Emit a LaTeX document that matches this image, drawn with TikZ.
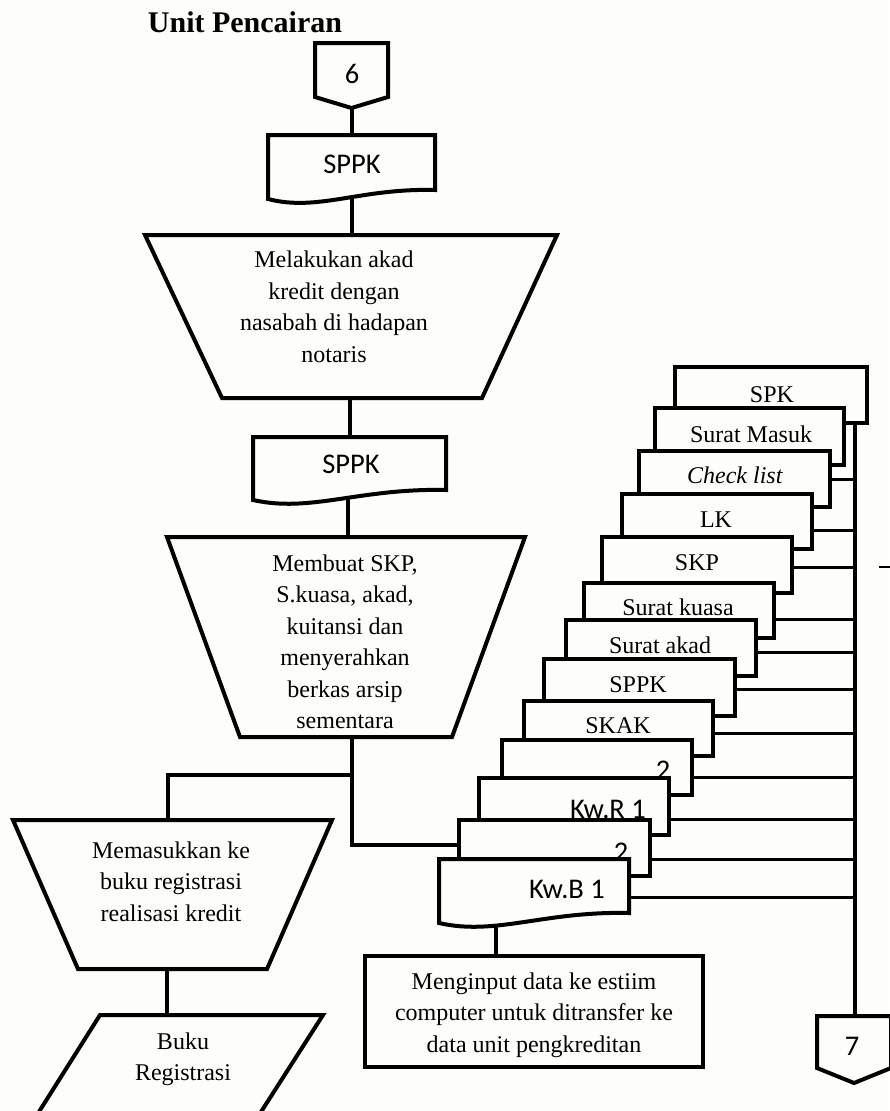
\documentclass[tikz,border=0pt]{standalone}
\usepackage{fontspec}
\setmainfont{Liberation Serif}
\newfontfamily\calib{Carlito}
\definecolor{paper}{RGB}{253,253,250}

% document symbol with a wavy bottom: left, top, right, bottom-left y, bottom-right y
\newcommand{\flowdoc}[5]{%
  \draw[shapeline] (#1,#2) -- (#3,#2) -- (#3,#5)
    .. controls ({#1+0.55*(#3-#1)},{#5-2}) and ({#1+0.3*(#3-#1)},{#4+13}) .. (#1,#4) -- cycle;}
% one sheet of the stacked documents: left, top, right, bottom
\newcommand{\sheet}[4]{\draw[shapeline] (#1,#2) rectangle (#3,#4);}
% off-page connector: left, top, right, bottom of the box, y of the tip
\newcommand{\offpage}[5]{%
  \draw[shapeline] (#1,#2) -- (#3,#2) -- (#3,#4) -- ({(#1+#3)/2},#5) -- (#1,#4) -- cycle;}

\begin{document}
\begin{tikzpicture}[x=1pt,y=-1pt,
  shapeline/.style={line width=4pt, line join=miter, draw=black, fill=paper},
  link/.style={line width=3.5pt},
  feed/.style={line width=3pt},
  body/.style={font=\fontsize{24}{31.5}\selectfont, align=center, inner sep=0pt},
  sans/.style={font=\calib\fontsize{28.5}{34}\selectfont, inner sep=0pt},
  sansbase/.style={sans, anchor=base},
  doclabel/.style={font=\fontsize{24}{30}\selectfont, inner sep=0pt, anchor=base},
]
\useasboundingbox[fill=paper] (0,0) rectangle (889,1111);

% ---------- connection points ----------
\coordinate (c6) at (352,108);
\coordinate (d1top) at (352,135);
\coordinate (d1bot) at (352,195);
\coordinate (t1top) at (352,235);
\coordinate (t1bot) at (350,398);
\coordinate (d2top) at (350,437);
\coordinate (d2bot) at (348,492);
\coordinate (t2top) at (348,537);
\coordinate (t2bot) at (352,737);
\coordinate (split) at (352,775);
\coordinate (knee) at (352,845);
\coordinate (kwbtwoin) at (459,845);
\coordinate (bendL) at (168,775);
\coordinate (t3top) at (168,820);
\coordinate (t3bot) at (167,969);
\coordinate (bukutop) at (167,1015);
\coordinate (kwbonebot) at (496,915);
\coordinate (inputtop) at (496,956);
\coordinate (bustop) at (855,423);
\coordinate (c7top) at (855,1016);
\coordinate (stubA) at (879,567);
\coordinate (stubB) at (890,567);

% right edges of the stacked sheets feeding the bus
\coordinate (fCheck) at (830,479);
\coordinate (fLK) at (812,530);
\coordinate (fSKP) at (792,567);
\coordinate (fKuasa) at (774,619);
\coordinate (fAkad) at (756,652);
\coordinate (fSPPK) at (735,689);
\coordinate (fSKAK) at (713,733);
\coordinate (fKwRtwo) at (692,777);
\coordinate (fKwRone) at (669,819);
\coordinate (fKwBtwo) at (650,859);
\coordinate (fKwBone) at (629,897);

% ---------- flow lines ----------
\draw[link] (c6) -- (d1top);
\draw[link] (d1bot) -- (t1top);
\draw[link] (t1bot) -- (d2top);
\draw[link] (d2bot) -- (t2top);
\draw[link] (t2bot) -- (knee) -- (kwbtwoin);
\draw[link] (split) -- (bendL) -- (t3top);
\draw[link] (t3bot) -- (bukutop);
\draw[link] (kwbonebot) -- (inputtop);
\draw[line width=4pt] (bustop) -- (c7top);
\foreach \f in {fCheck,fLK,fSKP,fKuasa,fAkad,fSPPK,fSKAK,fKwRtwo,fKwRone,fKwBtwo,fKwBone}
  \draw[feed] (\f) -- (\f -| bustop);
\draw[line width=1.5pt] (stubA) -- (stubB);

% ---------- title ----------
\node[font=\bfseries\fontsize{30}{36}\selectfont, anchor=base, inner sep=0pt] (title) at (245,32) {Unit Pencairan};

% ---------- left column ----------
\offpage{315}{43}{388}{97}{108}
\node[sans] (n6) at (352,74) {6};

\flowdoc{268}{135}{435}{199}{190}
\node[sans] (sppkA) at (352,164.5) {SPPK};

\draw[shapeline] (145,235) -- (557,235) -- (482,398) -- (222,398) -- cycle;
\node[body] (akad) at (334,307) {Melakukan akad\\kredit dengan\\nasabah di hadapan\\notaris};

\flowdoc{253}{437}{446}{500}{490}
\node[sans] (sppkB) at (351,464) {SPPK};

\draw[shapeline] (167,537) -- (525,537) -- (452,737) -- (240,737) -- cycle;
\node[body] (buat) at (345,642) {Membuat SKP,\\S.kuasa, akad,\\kuitansi dan\\menyerahkan\\berkas arsip\\sementara};

\draw[shapeline] (13,820) -- (332,820) -- (267,969) -- (78,969) -- cycle;
\node[body] (masuk) at (171,881.5) {Memasukkan ke\\buku registrasi\\realisasi kredit};

\draw[shapeline] (100,1015) -- (323,1015) -- (252,1126) -- (30,1126) -- cycle;
\node[body] (buku) at (183,1059) {Buku\\Registrasi};

% ---------- stacked documents ----------
\sheet{675}{367}{867}{423}
\node[doclabel] (lSPK) at (772,402) {SPK};
\sheet{655}{408}{844}{465}
\node[doclabel] (lMasuk) at (751,442) {Surat Masuk};
\sheet{639}{451}{830}{507}
\node[doclabel] (lCheck) at (735,483) {\textit{Check list}};
\sheet{622}{494}{812}{549}
\node[doclabel] (lLK) at (716,527) {LK};
\sheet{602}{537}{792}{593}
\node[doclabel] (lSKP) at (697,570) {SKP};
\sheet{584}{583}{774}{638}
\node[doclabel] (lKuasa) at (678,615) {Surat kuasa};
\sheet{566}{620}{756}{676}
\node[doclabel] (lAkad) at (660,653) {Surat akad};
\sheet{544}{659}{735}{716}
\node[doclabel] (lSPPK) at (638,692) {SPPK};
\sheet{524}{701}{713}{756}
\node[doclabel] (lSKAK) at (618,733) {SKAK};
\sheet{502}{740}{692}{795}
\node[sansbase] (lKwRtwo) at (663,779) {2};
\sheet{479}{778}{669}{835}
\node[sansbase] (lKwRone) at (608,818) {Kw.R 1};
\sheet{459}{820}{650}{876}
\node[sansbase] (lKwBtwo) at (621,861) {2};
\flowdoc{439}{859}{629}{923}{913}
\node[sansbase] (lKwBone) at (567,898) {Kw.B 1};

% ---------- input process ----------
\draw[shapeline] (365,956) rectangle (703,1067);
\node[body] (input) at (534,1015) {Menginput data ke estiim\\computer untuk ditransfer ke\\data unit pengkreditan};

% ---------- off-page connector 7 ----------
\offpage{817}{1016}{891}{1068}{1083}
\node[sans] (n7) at (852,1046) {7};
\end{tikzpicture}
\end{document}
